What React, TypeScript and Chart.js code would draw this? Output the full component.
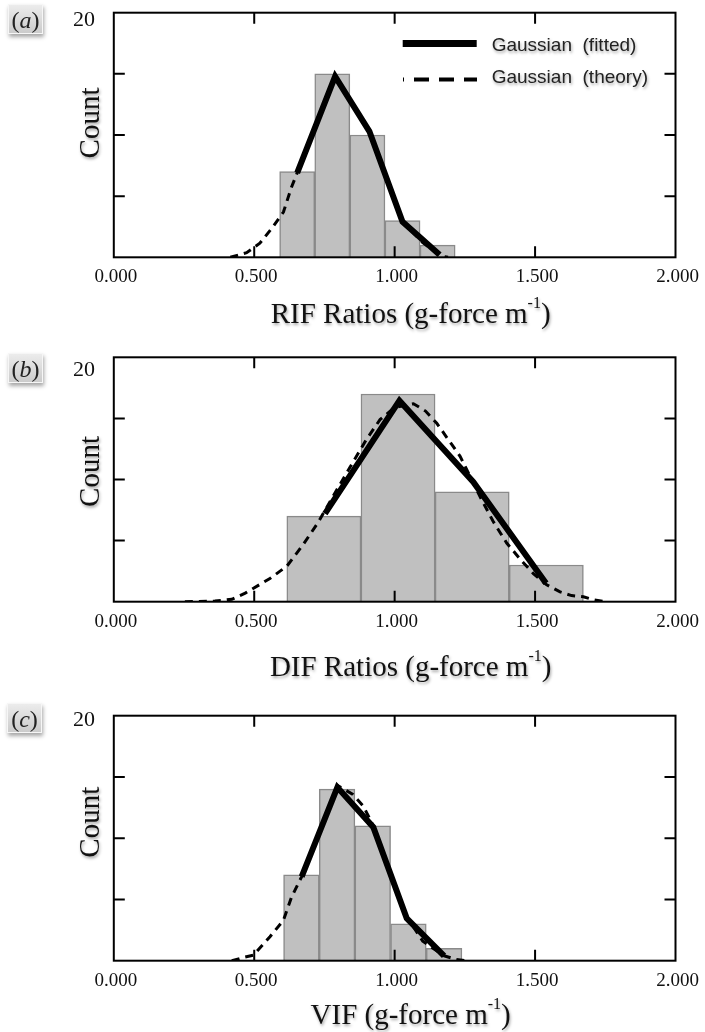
import React, { useEffect, useRef } from 'react';
import { Chart, registerables } from 'chart.js';

Chart.register(...registerables);

// ---------- shared axis data ----------
const xTickValues = [0, 0.5, 1, 1.5, 2];
const yTickValues = [0, 5, 10, 15, 20];
const xInnerTicks = [0.5, 1.0, 1.5];
const yInnerTicks = [5, 10, 15];
const legendLabels = ['Gaussian  (fitted)', 'Gaussian  (theory)'];

// ---------- panel (a) RIF ----------
const rifBinCenters = [0.653, 0.778, 0.903, 1.028, 1.153];
const rifCounts = [7, 15, 10, 3, 1];
const rifFitX = [0.653, 0.788, 0.91, 1.028, 1.16];
const rifFitY = [6.9, 14.8, 10.3, 2.9, 0.2];
const rifTheoryX = [0.415, 0.473, 0.52, 0.562, 0.604, 0.633, 0.653, 0.72, 0.788, 0.85, 0.91, 0.97, 1.028, 1.1, 1.168, 1.19];
const rifTheoryY = [0, 0.38, 1.15, 2.36, 3.7, 5.75, 6.9, 11.0, 14.8, 12.6, 10.3, 6.5, 2.9, 1.2, 0.1, 0];

// ---------- panel (b) DIF ----------
const difBinCenters = [0.748, 1.012, 1.276, 1.54];
const difCounts = [7, 17, 9, 3];
const difFitX = [0.752, 1.017, 1.28, 1.539];
const difFitY = [7.2, 16.45, 9.8, 1.5];
const difTheoryX = [0.253, 0.36, 0.42, 0.468, 0.556, 0.616, 0.672, 0.728, 0.785, 0.841, 0.9, 0.948, 1.0, 1.067, 1.11, 1.15, 1.19, 1.233, 1.27, 1.304, 1.35, 1.399, 1.45, 1.494, 1.54, 1.589, 1.63, 1.672, 1.71, 1.749];
const difTheoryY = [0, 0.05, 0.2, 0.7, 1.9, 2.9, 4.6, 6.5, 8.8, 11.0, 13.3, 14.9, 15.9, 16.2, 15.6, 14.6, 13.3, 11.9, 10.2, 8.6, 6.6, 4.8, 3.4, 2.3, 1.4, 0.8, 0.5, 0.4, 0.15, 0];

// ---------- panel (c) VIF ----------
const vifBinCenters = [0.668, 0.795, 0.922, 1.049, 1.176];
const vifCounts = [7, 14, 11, 3, 1];
const vifFitX = [0.669, 0.796, 0.924, 1.043, 1.176];
const vifFitY = [6.86, 14.15, 10.9, 3.46, 0.4];
const vifTheoryX = [0.42, 0.468, 0.497, 0.556, 0.604, 0.633, 0.669, 0.734, 0.796, 0.85, 0.889, 0.924, 0.98, 1.043, 1.1, 1.176, 1.22, 1.257];
const vifTheoryY = [0, 0.3, 0.45, 1.96, 3.3, 5.2, 6.86, 10.7, 14.3, 13.6, 12.6, 11.0, 7.5, 3.6, 1.6, 0.4, 0.1, 0];

const pts = (xs: number[], ys: number[]) => xs.map((x, i) => ({ x, y: ys[i] }));

type PanelCfg = {
  tag: string;
  tagTop: number;
  tagLeft: number;
  canvasTop: number;
  canvasH: number;
  plotTop: number;
  plotBottom: number;
  labelOffset20: number;
  titleMain: string;
  titleDy: number;
  countDy: number;
  legend: boolean;
  bins: number[];
  counts: number[];
  fitX: number[];
  fitY: number[];
  thX: number[];
  thY: number[];
};

const PAGE_W = 705;
const PLOT_LEFT = 113.8;
const PLOT_RIGHT = 675.5;

const panels: PanelCfg[] = [
  {
    tag: 'a', tagTop: 4, tagLeft: 8, canvasTop: 0, canvasH: 340, plotTop: 12.7, plotBottom: 257.3,
    labelOffset20: 8, titleMain: 'RIF Ratios (g-force m', titleDy: 65.4, countDy: -12, legend: true,
    bins: rifBinCenters, counts: rifCounts, fitX: rifFitX, fitY: rifFitY, thX: rifTheoryX, thY: rifTheoryY,
  },
  {
    tag: 'b', tagTop: 352.7, tagLeft: 8, canvasTop: 340, canvasH: 350, plotTop: 357.3, plotBottom: 601.7,
    labelOffset20: 12.7, titleMain: 'DIF Ratios (g-force m', titleDy: 74, countDy: -8, legend: false,
    bins: difBinCenters, counts: difCounts, fitX: difFitX, fitY: difFitY, thX: difTheoryX, thY: difTheoryY,
  },
  {
    tag: 'c', tagTop: 702.7, tagLeft: 7, canvasTop: 690, canvasH: 342, plotTop: 715.7, plotBottom: 960.7,
    labelOffset20: 4.5, titleMain: 'VIF (g-force m', titleDy: 63, countDy: -16, legend: false,
    bins: vifBinCenters, counts: vifCounts, fitX: vifFitX, fitY: vifFitY, thX: vifTheoryX, thY: vifTheoryY,
  },
];

const setShadow = (ctx: CanvasRenderingContext2D) => {
  ctx.shadowColor = 'rgba(0,0,0,0.35)';
  ctx.shadowBlur = 3;
  ctx.shadowOffsetX = 1;
  ctx.shadowOffsetY = 2;
};

function makeDecor(cfg: PanelCfg) {
  return {
    id: 'decor',
    afterDatasetsDraw(chart: any) {
      const { ctx, chartArea: ca, scales } = chart;
      const xs = scales.x;
      const ys = scales.y;
      ctx.save();
      // frame
      ctx.strokeStyle = '#000';
      ctx.lineWidth = 2;
      ctx.setLineDash([]);
      ctx.strokeRect(ca.left, ca.top, ca.right - ca.left, ca.bottom - ca.top);
      // inward ticks
      ctx.beginPath();
      xInnerTicks.forEach((v) => {
        const px = xs.getPixelForValue(v);
        ctx.moveTo(px, ca.top);
        ctx.lineTo(px, ca.top + 11);
        ctx.moveTo(px, ca.bottom);
        ctx.lineTo(px, ca.bottom - 11);
      });
      yInnerTicks.forEach((v) => {
        const py = ys.getPixelForValue(v);
        ctx.moveTo(ca.left, py);
        ctx.lineTo(ca.left + 11, py);
        ctx.moveTo(ca.right, py);
        ctx.lineTo(ca.right - 11, py);
      });
      ctx.stroke();

      // x title with superscript
      ctx.fillStyle = '#111';
      setShadow(ctx);
      ctx.textBaseline = 'alphabetic';
      ctx.textAlign = 'left';
      const bigFont = '29px "Liberation Serif"';
      const supFont = '16px "Liberation Serif"';
      ctx.font = bigFont;
      const w1 = ctx.measureText(cfg.titleMain).width;
      const w3 = ctx.measureText(')').width;
      ctx.font = supFont;
      const w2 = ctx.measureText('-1').width;
      const total = w1 + w2 + w3;
      let x = (ca.left + ca.right) / 2 + 16 - total / 2;
      const by = ca.bottom + cfg.titleDy;
      ctx.font = bigFont;
      ctx.fillText(cfg.titleMain, x, by);
      x += w1;
      ctx.font = supFont;
      ctx.fillText('-1', x, by - 15);
      x += w2;
      ctx.font = bigFont;
      ctx.fillText(')', x, by);

      // y title
      ctx.save();
      ctx.translate(98.5, (ca.top + ca.bottom) / 2 + cfg.countDy);
      ctx.rotate(-Math.PI / 2);
      ctx.textAlign = 'center';
      ctx.font = bigFont;
      ctx.fillText('Count', 0, 0);
      ctx.restore();

      // legend
      if (cfg.legend) {
        const fit = chart.data.datasets[0];
        const th = chart.data.datasets[1];
        ctx.save();
        ctx.shadowColor = 'transparent';
        ctx.strokeStyle = fit.borderColor;
        ctx.lineWidth = 7;
        ctx.setLineDash([]);
        ctx.beginPath();
        ctx.moveTo(402.7, 43.5);
        ctx.lineTo(476.7, 43.5);
        ctx.stroke();
        ctx.strokeStyle = th.borderColor;
        ctx.lineWidth = 4;
        ctx.setLineDash([15, 10]);
        ctx.lineDashOffset = 14;
        ctx.beginPath();
        ctx.moveTo(403, 79.5);
        ctx.lineTo(477, 79.5);
        ctx.stroke();
        ctx.restore();
        ctx.font = '19px "Liberation Sans"';
        ctx.fillStyle = '#222';
        ctx.textAlign = 'left';
        ctx.textBaseline = 'middle';
        ctx.fillText(legendLabels[0], 491.7, 45.5);
        ctx.fillText(legendLabels[1], 491.7, 77.5);
      }
      ctx.restore();
    },
  };
}

function Panel({ cfg }: { cfg: PanelCfg }) {
  const ref = useRef<HTMLCanvasElement | null>(null);
  useEffect(() => {
    if (!ref.current) return;
    const top = cfg.plotTop - cfg.canvasTop;
    const bottom = cfg.plotBottom - cfg.canvasTop;
    const xHeight = cfg.canvasH - bottom;
    const chart = new Chart(ref.current, {
      type: 'bar',
      data: {
        datasets: [
          {
            type: 'line',
            label: legendLabels[0],
            data: pts(cfg.fitX, cfg.fitY),
            borderColor: '#000',
            borderWidth: 6,
            pointRadius: 0,
            tension: 0,
            fill: false,
          } as any,
          {
            type: 'line',
            label: legendLabels[1],
            data: pts(cfg.thX, cfg.thY),
            borderColor: '#000',
            borderWidth: 3,
            borderDash: [8, 6],
            pointRadius: 0,
            tension: 0,
            fill: false,
          } as any,
          {
            type: 'bar',
            label: 'Count',
            data: pts(cfg.bins, cfg.counts),
            backgroundColor: '#c0c0c0',
            borderColor: '#8a8a8a',
            borderWidth: 1.5,
            barPercentage: 1,
            categoryPercentage: 1,
          } as any,
        ],
      },
      options: {
        animation: false,
        responsive: false,
        events: [],
        layout: { padding: { left: 0, top, right: PAGE_W - PLOT_RIGHT, bottom: 0 } },
        plugins: { legend: { display: false }, tooltip: { enabled: false }, title: { display: false } },
        scales: {
          x: {
            type: 'linear',
            min: 0,
            max: 2,
            offset: false,
            grid: { display: false, drawTicks: false },
            border: { display: false },
            afterBuildTicks: (s: any) => {
              s.ticks = xTickValues.map((v) => ({ value: v }));
            },
            afterFit: (s: any) => {
              s.height = xHeight;
              s.paddingLeft = 0;
              s.paddingRight = 0;
            },
            ticks: {
              autoSkip: false,
              maxRotation: 0,
              padding: 8.6,
              labelOffset: 2,
              color: '#111',
              font: { family: 'Liberation Serif', size: 19 },
              callback: (v: any) => Number(v).toFixed(3),
            },
          },
          y: {
            type: 'linear',
            min: 0,
            max: 20,
            grid: { display: false, drawTicks: false },
            border: { display: false },
            afterBuildTicks: (s: any) => {
              s.ticks = yTickValues.map((v) => ({ value: v }));
            },
            afterFit: (s: any) => {
              s.width = PLOT_LEFT;
              s.paddingTop = 0;
              s.paddingBottom = 0;
            },
            ticks: {
              autoSkip: false,
              padding: 18.8,
              labelOffset: cfg.labelOffset20,
              color: '#111',
              font: { family: 'Liberation Serif', size: 22 },
              callback: (v: any) => (Number(v) === 20 ? '20' : ''),
            },
          },
        },
      } as any,
      plugins: [makeDecor(cfg)],
    });
    return () => chart.destroy();
  }, [cfg]);

  return (
    <>
      <canvas
        ref={ref}
        width={PAGE_W}
        height={cfg.canvasH}
        style={{ position: 'absolute', left: 0, top: cfg.canvasTop, width: PAGE_W, height: cfg.canvasH }}
      />
      <div
        style={{
          position: 'absolute',
          left: cfg.tagLeft,
          top: cfg.tagTop,
          width: 35,
          height: 30,
          boxSizing: 'border-box',
          background: 'linear-gradient(#ececec, #cbcbcb)',
          border: '1px solid #f6f6f6',
          boxShadow: '1px 3px 4px rgba(0,0,0,0.35)',
          font: '24px "Liberation Serif"',
          color: '#222',
          display: 'flex',
          alignItems: 'center',
          justifyContent: 'center',
          paddingTop: 2,
          lineHeight: 1,
        }}
      >
        (<i>{cfg.tag}</i>)
      </div>
    </>
  );
}

export default function App() {
  return (
    <div style={{ position: 'absolute', left: 0, top: 0, width: PAGE_W, height: 1032, background: '#fff' }}>
      {panels.map((p) => (
        <Panel key={p.tag} cfg={p} />
      ))}
    </div>
  );
}
